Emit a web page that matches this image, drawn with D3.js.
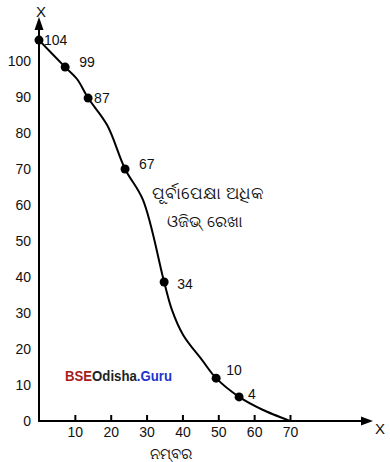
<!DOCTYPE html>
<meta charset="utf-8">
<script src="https://d3js.org/d3.v7.min.js"></script>
<style>
  body { margin: 0; background: #fff; }
  text { font-family: "Liberation Sans", Arial, sans-serif; }
</style>
<div id="my_dataviz"></div>
<script>

// points as drawn (label = cumulative frequency)
var dotLabels = ["104", "99", "87", "67", "34", "10", "4"];
var dotX = [0, 7.3, 13.7, 24, 34.9, 49.4, 55.8];
var dotY = [105.8, 98.3, 89.7, 70, 38.6, 11.9, 6.7];

// curve as drawn through the points
var curveX = [0, 7.3, 10.6, 13.7, 19, 24, 29, 34.9, 37.1, 40.2, 45.5, 49.4, 55.8, 62.5, 70];
var curveY = [105.8, 98.3, 95, 89.7, 82.2, 70, 61.4, 38.6, 30.8, 23.9, 16.9, 11.9, 6.7, 3.05, 0];

var xTicks = [10, 20, 30, 40, 50, 60, 70];
var yTicks = [0, 10, 20, 30, 40, 50, 60, 70, 80, 90, 100];

var width = 390, height = 462;

var svg = d3.select("#my_dataviz")
  .append("svg")
    .attr("width", width)
    .attr("height", height);

var x = d3.scaleLinear().domain([0, 70]).range([39, 290]);
var y = d3.scaleLinear().domain([0, 100]).range([421, 61]);

// X axis ticks (pointing up) and labels
var xAxis = svg.append("g")
  .attr("transform", "translate(0," + y(0) + ")")
  .call(d3.axisBottom(x).tickValues(xTicks).tickSize(-6).tickPadding(6).tickFormat(d3.format("d")));
xAxis.select(".domain").remove();
xAxis.selectAll("line").attr("stroke", "#000").attr("stroke-width", 2);
xAxis.selectAll("text").attr("font-size", 14).attr("fill", "#111")
  .attr("font-family", "Liberation Sans, Arial, sans-serif");

// Y axis labels only
var yAxis = svg.append("g")
  .attr("transform", "translate(" + x(0) + ",0)")
  .call(d3.axisLeft(y).tickValues(yTicks).tickSize(0).tickPadding(8).tickFormat(d3.format("d")));
yAxis.select(".domain").remove();
yAxis.selectAll("text").attr("font-size", 14).attr("fill", "#111")
  .attr("font-family", "Liberation Sans, Arial, sans-serif");

// axis lines with arrows
svg.append("line")
  .attr("x1", x(0)).attr("y1", y(0)).attr("x2", x(0)).attr("y2", 26)
  .attr("stroke", "#000").attr("stroke-width", 2);
svg.append("path")
  .attr("d", "M" + x(0) + ",17 L" + (x(0) - 4.5) + ",30 L" + (x(0) + 4.5) + ",30 Z")
  .attr("fill", "#000");
svg.append("line")
  .attr("x1", x(0) - 1).attr("y1", y(0)).attr("x2", 364).attr("y2", y(0))
  .attr("stroke", "#000").attr("stroke-width", 2);
svg.append("path")
  .attr("d", "M373," + y(0) + " L361," + (y(0) - 4.5) + " L361," + (y(0) + 4.5) + " Z")
  .attr("fill", "#000");

svg.append("text").attr("x", 41).attr("y", 17).attr("text-anchor", "middle")
  .attr("font-size", 15).attr("fill", "#111").text("X");
svg.append("text").attr("x", 380).attr("y", 434).attr("text-anchor", "middle")
  .attr("font-size", 15).attr("fill", "#111").text("X");

// x axis title
svg.append("text").attr("x", 171).attr("y", 459).attr("text-anchor", "middle")
  .attr("font-size", 15).attr("fill", "#111").text("ନମ୍ବର");

// ogive
var line = d3.line()
  .x(function(d) { return x(d[0]); })
  .y(function(d) { return y(d[1]); })
  .curve(d3.curveCatmullRom.alpha(0.5));
svg.append("path")
  .datum(curveX.map(function(v, i) { return [v, curveY[i]]; }))
  .attr("d", line)
  .attr("fill", "none")
  .attr("stroke", "#000")
  .attr("stroke-width", 2);

var dots = dotX.map(function(v, i) { return {x: v, y: dotY[i], label: dotLabels[i]}; });
var labelOffset = [[5, 0], [14, -5], [6, 0], [14, -5], [13, 2], [10, -8], [9, -3]];

svg.selectAll("circle.dot")
  .data(dots)
  .enter()
  .append("circle")
    .attr("class", "dot")
    .attr("cx", function(d) { return x(d.x); })
    .attr("cy", function(d) { return y(d.y); })
    .attr("r", 4.5)
    .attr("fill", "#000");

svg.selectAll("text.dotlabel")
  .data(dots)
  .enter()
  .append("text")
    .attr("class", "dotlabel")
    .attr("x", function(d, i) { return x(d.x) + labelOffset[i][0]; })
    .attr("y", function(d, i) { return y(d.y) + labelOffset[i][1]; })
    .attr("dy", "0.35em")
    .attr("font-size", 14)
    .attr("fill", "#111")
    .text(function(d) { return d.label; });

// annotation
svg.append("text").attr("x", 208).attr("y", 199).attr("text-anchor", "middle")
  .attr("font-size", 16.5).attr("fill", "#111").text("ପୂର୍ବାପେକ୍ଷା ଅଧିକ");
svg.append("text").attr("x", 205).attr("y", 227).attr("text-anchor", "middle")
  .attr("font-size", 16).attr("fill", "#111").text("ଓଜିଭ୍ ରେଖା");

// watermark
var wm = svg.append("text").attr("x", 65).attr("y", 381)
  .attr("font-size", 14).attr("font-weight", "bold")
  .attr("textLength", 107).attr("lengthAdjust", "spacingAndGlyphs");
wm.append("tspan").attr("fill", "#a61c1c").text("BSE");
wm.append("tspan").attr("fill", "#222").text("Odisha");
wm.append("tspan").attr("fill", "#2233cc").text(".Guru");

</script>
